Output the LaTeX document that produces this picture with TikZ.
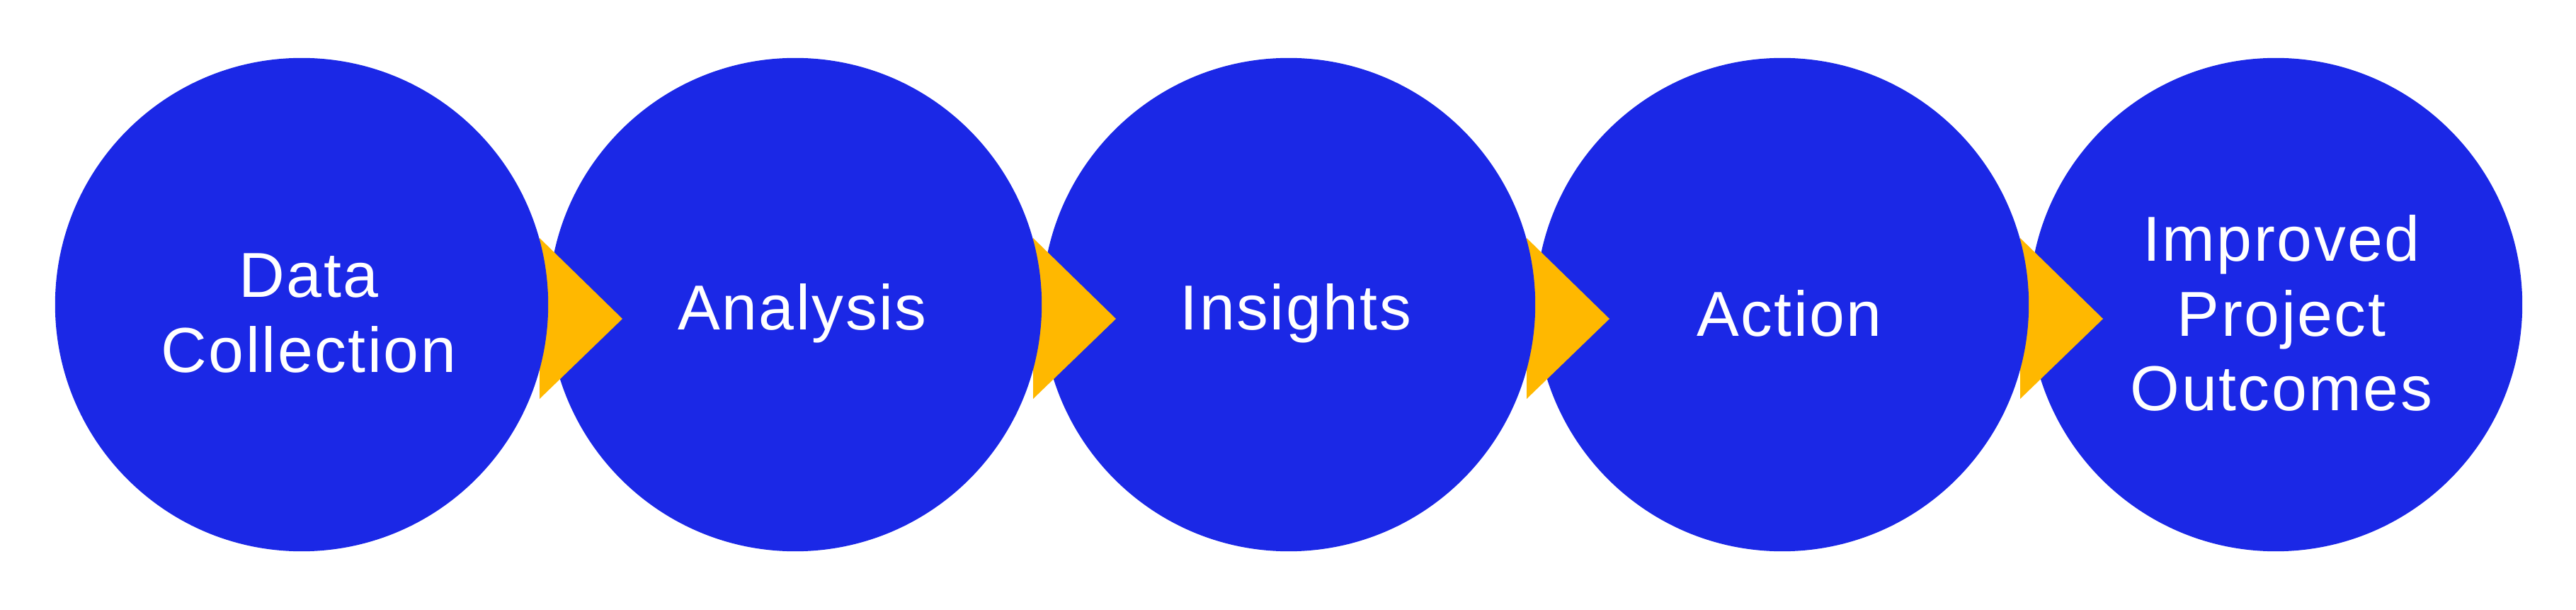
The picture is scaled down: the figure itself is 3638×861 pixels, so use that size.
\documentclass[tikz,border=0pt]{standalone}
\usepackage{fontspec}
\setmainfont[LetterSpace=2.8]{Liberation Sans}
\usetikzlibrary{calc}
\definecolor{stepblue}{RGB}{27,40,230}
\definecolor{arrowgold}{RGB}{255,184,0}
\tikzset{
  stage/.style={circle, fill=stepblue, draw=none, minimum size=6.96cm, inner sep=0pt},
  stagetext/.style={text=white, align=center, font=\fontsize{25.5pt}{30pt}\selectfont},
  pointer/.style={fill=arrowgold, draw=none}
}
\begin{document}
\begin{tikzpicture}[x=0.01cm,y=-0.01cm]
\useasboundingbox (0,0) rectangle (3638,861);
\coordinate (p1) at (426,430);
\coordinate (p2) at (1123,430);
\coordinate (p3) at (1820,430);
\coordinate (p4) at (2517,430);
\coordinate (p5) at (3214,430);
% draw right to left so each circle covers the left edge of its arrow
\node[stage] (c5) at (p5) {};
\fill[pointer] ($(p4)+(336,-94)$) -- ($(p4)+(453,20)$) -- ($(p4)+(336,133)$) -- cycle;
\node[stage] (c4) at (p4) {};
\fill[pointer] ($(p3)+(336,-94)$) -- ($(p3)+(453,20)$) -- ($(p3)+(336,133)$) -- cycle;
\node[stage] (c3) at (p3) {};
\fill[pointer] ($(p2)+(336,-94)$) -- ($(p2)+(453,20)$) -- ($(p2)+(336,133)$) -- cycle;
\node[stage] (c2) at (p2) {};
\fill[pointer] ($(p1)+(336,-94)$) -- ($(p1)+(453,20)$) -- ($(p1)+(336,133)$) -- cycle;
\node[stage] (c1) at (p1) {};
% labels
\node[stagetext] (t1) at ($(c1.center)+(10,12)$) {Data\\Collection};
\node[stagetext] (t2) at ($(c2.center)+(10,12)$) {Analysis};
\node[stagetext] (t3) at ($(c3.center)+(10,12)$) {Insights};
\node[stagetext] (t4) at ($(c4.center)+(10,12)$) {Action};
\node[stagetext] (t5) at ($(c5.center)+(8,12)$) {Improved\\Project\\Outcomes};
\end{tikzpicture}
\end{document}
